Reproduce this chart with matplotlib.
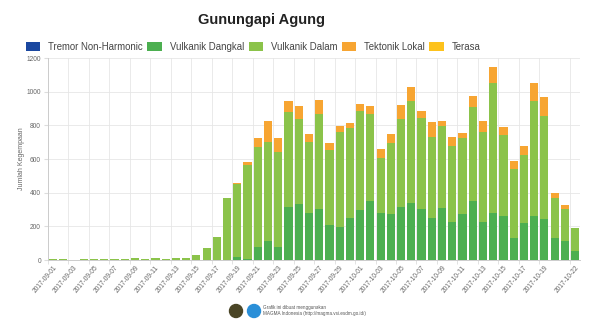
import numpy as np
import pandas as pd
import matplotlib
matplotlib.use("Agg")
import matplotlib.pyplot as plt
from matplotlib.patches import Circle

plt.rcParams["font.family"] = ["Liberation Sans", "DejaVu Sans"]

# daily counts, 2017-09-01 .. 2017-10-22
dates = pd.date_range("2017-09-01", "2017-10-22").strftime("%Y-%m-%d").tolist()

tremor = [0] * 41 + [3] + [0] * 7 + [3, 0, 0]

dangkal = [0] * 18 + [
    17, 5, 76, 112, 76, 315, 333, 280, 306, 210, 194, 250, 297, 351, 280, 274,
    315, 339, 303, 250, 309, 226, 274, 345, 226, 280, 262, 130, 220, 262, 246,
    130, 116, 53,
]

dalam = [
    4, 5, 3, 6, 4, 5, 5, 9, 10, 5, 11, 5, 10, 10, 30, 73, 136, 369,
    437, 559, 597, 591, 564, 567, 506, 420, 564, 442, 565, 537, 591, 516, 324,
    421, 524, 607, 540, 483, 488, 454, 449, 564, 537, 772, 481, 408, 404, 684,
    607, 238, 190, 137,
]

tektonik = [0] * 18 + [
    5, 20, 54, 124, 83, 64, 79, 47, 82, 42, 38, 28, 38, 51, 56, 52,
    83, 82, 45, 88, 30, 51, 34, 60, 66, 93, 50, 50, 56, 106, 115,
    30, 19, 0,
]

terasa = [0] * 52

series = [
    ("Tremor Non-Harmonic", tremor, "#1a47a0"),
    ("Vulkanik Dangkal", dangkal, "#4caf50"),
    ("Vulkanik Dalam", dalam, "#8bc34a"),
    ("Tektonik Lokal", tektonik, "#f7a532"),
    ("Terasa", terasa, "#fdc21c"),
]

x = np.arange(len(dates))
fig = plt.figure(figsize=(6, 3.3), dpi=100)
ax = fig.add_axes([0.08, 0.212, 0.887, 0.612])

bottom = np.zeros(len(dates))
for name, vals, color in series:
    vals = np.array(vals, dtype=float)
    ax.bar(x, vals, width=0.8, bottom=bottom, color=color, label=name, zorder=3)
    bottom += vals

# labels every second day plus the last one
tick_idx = list(range(0, 49, 2)) + [51]
ax.set_xticks(tick_idx)
ax.set_xticklabels([dates[i] for i in tick_idx], rotation=50, ha="right",
                   rotation_mode="anchor", fontsize=4.8, color="#666666")
ax.set_xticks([i - 0.5 for i in tick_idx], minor=True)
ax.tick_params(axis="x", which="major", length=0, pad=3)
ax.tick_params(axis="x", which="minor", length=3, color="#dddddd")
ax.grid(axis="x", which="minor", color="#e6e6e6", lw=0.6, zorder=0)

ax.set_xlim(-0.5, 51.5)
ax.set_ylim(0, 1200)
ax.set_yticks(range(0, 1201, 200))
ax.tick_params(axis="y", labelsize=4.8, labelcolor="#666666", length=3, color="#dddddd", pad=2)
ax.grid(axis="y", color="#e6e6e6", lw=0.6, zorder=0)
ax.set_ylabel("Jumlah Kegempaan", fontsize=5, color="#666666", labelpad=1)

for s in ["top", "right"]:
    ax.spines[s].set_visible(False)
for s in ["left", "bottom"]:
    ax.spines[s].set_color("#cccccc")
    ax.spines[s].set_linewidth(0.7)

fig.text(0.435, 1 - 20 / 330, "Gunungapi Agung", ha="center", va="center",
         fontsize=10.5, fontweight="bold", color="#222222")
fig.legend(loc="center", bbox_to_anchor=(0.422, 1 - 47 / 330), ncol=5, frameon=False,
           fontsize=6.9, handlelength=1.5, handleheight=1.1, handletextpad=0.8,
           columnspacing=0.5, labelcolor="#444444")

# footer credit
for cx, col in [(236, "#4a4526"), (254, "#2a8fd8")]:
    fig.patches.append(Circle((cx / 100, (330 - 311) / 100), 0.065,
                              transform=fig.dpi_scale_trans, color=col, zorder=5))
fig.text(263 / 600, 1 - 308 / 330, "Grafik ini dibuat menggunakan", fontsize=3.3,
         color="#555555", va="center")
fig.text(263 / 600, 1 - 314 / 330, "MAGMA Indonesia (http://magma.vsi.esdm.go.id/)",
         fontsize=3.3, color="#555555", va="center")

fig.savefig("out.png", dpi=100)
